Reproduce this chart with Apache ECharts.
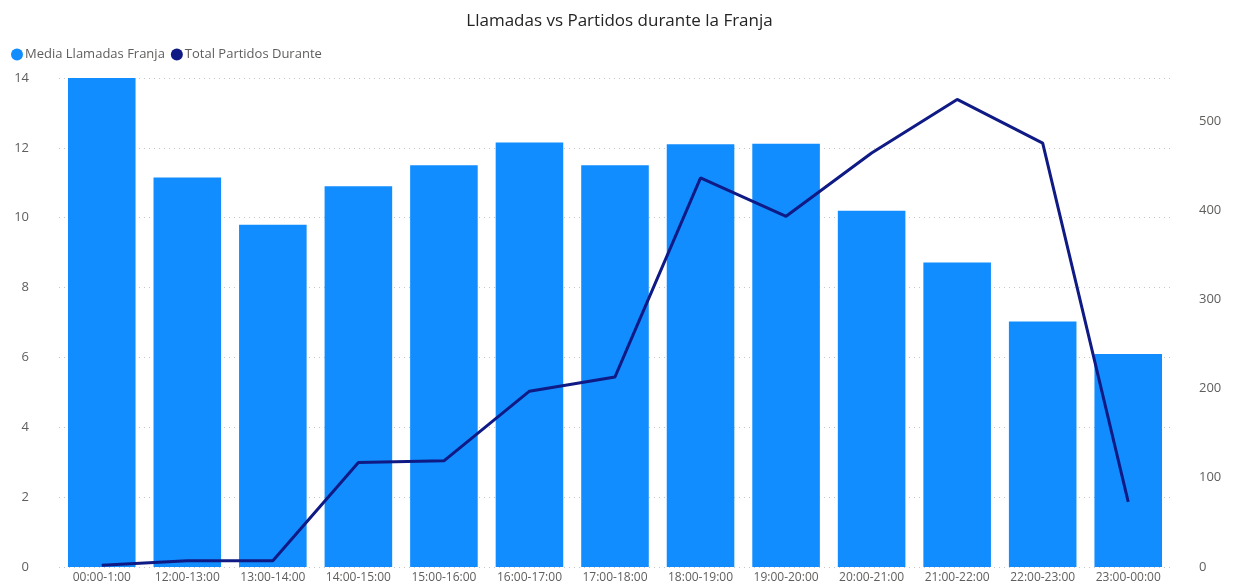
<!DOCTYPE html>
<html><head><meta charset="utf-8">
<script src="https://cdn.jsdelivr.net/npm/echarts@6/dist/echarts.min.js"></script>
<style>html,body{margin:0;padding:0;background:#fff}#c{width:1239px;height:587px}</style>
</head><body><div id="c"></div>
<script>
const categories = ["00:00-1:00","12:00-13:00","13:00-14:00","14:00-15:00","15:00-16:00","16:00-17:00","17:00-18:00","18:00-19:00","19:00-20:00","20:00-21:00","21:00-22:00","22:00-23:00","23:00-00:00"];
const mediaLlamadas = [14.0, 11.15, 9.8, 10.9, 11.5, 12.15, 11.5, 12.1, 12.12, 10.2, 8.72, 7.03, 6.1];
const totalPartidos = [2, 7, 7, 117, 119, 197, 213, 436, 393, 464, 524, 475, 73];
const leftTicks = [0, 14, 2];
const rightTicks = [0, 548, 100];

const chart = echarts.init(document.getElementById('c'));
const font = "'Open Sans', 'Noto Sans', sans-serif";
chart.setOption({
  animation: false,
  textStyle: {fontFamily: font},
  title: {text: 'Llamadas vs Partidos durante la Franja', left: 'center', top: 8,
    textStyle: {fontFamily: font, fontSize: 17, fontWeight: 500, color: '#252423'}},
  legend: {left: 6, top: 43, itemWidth: 12, itemHeight: 12, itemGap: 6, icon: 'circle',
    textStyle: {fontFamily: font, fontSize: 13, color: '#605E5C', padding: [0,0,0,-3]},
    data: ['Media Llamadas Franja', 'Total Partidos Durante']},
  grid: {left: 59, right: 68, top: 78, bottom: 20, containLabel: false},
  xAxis: {type: 'category', data: categories,
    axisLine: {show: false}, axisTick: {show: false},
    axisLabel: {color: '#605E5C', fontSize: 12, margin: 5, interval: 0, fontFamily: font}},
  yAxis: [
    {type: 'value', min: leftTicks[0], max: leftTicks[1], interval: leftTicks[2],
     axisLine: {show: false}, axisTick: {show: false},
     axisLabel: {color: '#605E5C', fontSize: 13, margin: 30, fontFamily: font},
     splitLine: {lineStyle: {type: [1, 4], color: '#C8C6C4', width: 1}}},
    {type: 'value', min: rightTicks[0], max: rightTicks[1], interval: rightTicks[2],
     position: 'right',
     axisLine: {show: false}, axisTick: {show: false},
     axisLabel: {color: '#605E5C', fontSize: 13, margin: 28, fontFamily: font,
       formatter: v => (v % 100 === 0 ? v : '')},
     splitLine: {show: false}}
  ],
  series: [
    {name: 'Media Llamadas Franja', type: 'bar', data: mediaLlamadas, yAxisIndex: 0,
     barCategoryGap: '21%', itemStyle: {color: '#118DFF'}},
    {name: 'Total Partidos Durante', type: 'line', data: totalPartidos, yAxisIndex: 1,
     symbol: 'none', lineStyle: {color: '#0F1A85', width: 3}, itemStyle: {color: '#0F1A85'}}
  ]
});
</script></body></html>
